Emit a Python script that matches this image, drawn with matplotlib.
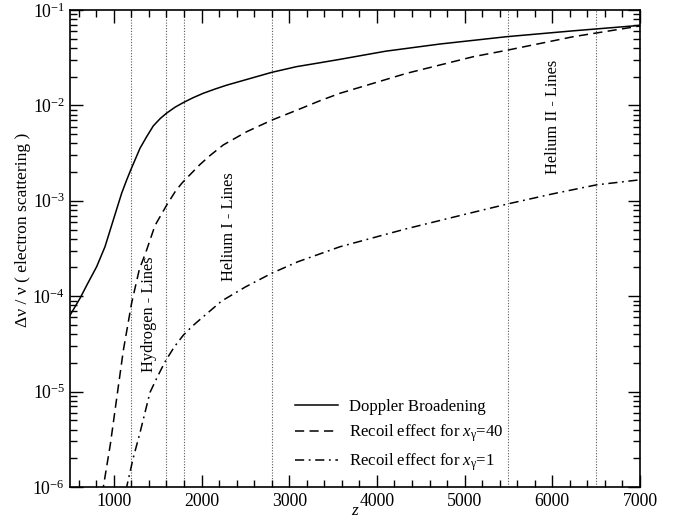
import numpy as np
import matplotlib
matplotlib.use("Agg")
import matplotlib.pyplot as plt
from matplotlib.ticker import LogLocator, MultipleLocator, FixedLocator, NullFormatter

plt.rcParams['font.family'] = ['Liberation Serif', 'DejaVu Serif']
plt.rcParams['mathtext.fontset'] = 'custom'
plt.rcParams['mathtext.rm'] = 'Liberation Serif'
plt.rcParams['mathtext.it'] = 'Liberation Serif:italic'
plt.rcParams['mathtext.bf'] = 'Liberation Serif:bold'

# Doppler broadening
z_doppler = [500, 614, 700, 804, 899, 994, 1089, 1146, 1192, 1298, 1374, 1450, 1530, 1602,
             1700, 1792, 1900, 2020, 2150, 2287, 2515, 2800, 3085, 3351, 3579, 4100,
             4719, 5479, 6239, 7000]
v_doppler = [6.3e-5, 9.5e-5, 1.35e-4, 2.04e-4, 3.3e-4, 6.3e-4, 1.2e-3, 1.65e-3, 2.1e-3,
             3.55e-3, 4.7e-3, 6.1e-3, 7.3e-3, 8.3e-3, 9.6e-3, 1.07e-2, 1.2e-2, 1.34e-2,
             1.48e-2, 1.63e-2, 1.87e-2, 2.22e-2, 2.55e-2, 2.8e-2, 3.04e-2, 3.7e-2,
             4.4e-2, 5.25e-2, 6.05e-2, 6.9e-2]

# Recoil effect for x_gamma = 40
z_rec40 = [860, 880, 960, 1043, 1108, 1203, 1290, 1374, 1469, 1602, 1700, 1773, 1849,
           1982, 2100, 2248, 2515, 2800, 3085, 3351, 3579, 4339, 5099, 5498, 6239, 7000]
v_rec40 = [8.5e-7, 1.0e-6, 2.8e-6, 1.0e-5, 2.7e-5, 8.5e-5, 1.9e-4, 3.05e-4, 5.5e-4,
           9.0e-4, 1.25e-3, 1.52e-3, 1.8e-3, 2.4e-3, 3.0e-3, 3.85e-3, 5.3e-3, 7.0e-3,
           8.9e-3, 1.12e-2, 1.34e-2, 2.17e-2, 3.24e-2, 3.81e-2, 5.25e-2, 6.8e-2]

# Recoil effect for x_gamma = 1
z_rec1 = [1140, 1146, 1220, 1298, 1412, 1500, 1583, 1690, 1792, 1900, 2020, 2229, 2500,
          2800, 3100, 3579, 4339, 5000, 5498, 6000, 6505, 7000]
v_rec1 = [9.2e-7, 1.0e-6, 2.0e-6, 3.7e-6, 9.8e-6, 1.45e-5, 2.05e-5, 2.95e-5, 3.9e-5,
          4.9e-5, 6.1e-5, 8.9e-5, 1.25e-4, 1.74e-4, 2.3e-4, 3.3e-4, 5.1e-4, 7.2e-4,
          9.3e-4, 1.18e-3, 1.47e-3, 1.66e-3]

line_positions = [1200, 1600, 1800, 2800, 5500, 6500]
region_labels = ["Hydrogen - Lines", "Helium I - Lines", "Helium II - Lines"]
region_z = [1401, 2313, 6008]
region_v = [6.5e-5, 5.4e-4, 7.5e-3]

legend_labels = ["Doppler Broadening",
                 r"Recoil effect for $x_{\mathrm{\gamma}}$=40",
                 r"Recoil effect for $x_{\mathrm{\gamma}}$=1"]

fig = plt.figure(figsize=(6.78, 5.2), dpi=100)
ax = fig.add_axes([70/678, 1-487/520, 570/678, 477/520])

for xv in line_positions:
    ax.axvline(xv, color='0.35', lw=0.8, ls=(0, (1, 1.5)), zorder=1)

ax.plot(z_doppler, v_doppler, color='black', lw=1.1, ls='-', label=legend_labels[0])
ax.plot(z_rec40, v_rec40, color='black', lw=1.1, ls=(0, (6, 3.5)), label=legend_labels[1])
ax.plot(z_rec1, v_rec1, color='black', lw=1.1, ls=(0, (6, 3, 1.2, 3)), label=legend_labels[2])

ax.set_yscale('log')
ax.set_xlim(500, 7000)
ax.set_ylim(1e-6, 1e-1)

ax.xaxis.set_major_locator(FixedLocator([1000, 2000, 3000, 4000, 5000, 6000, 7000]))
ax.xaxis.set_minor_locator(MultipleLocator(200))
ax.yaxis.set_major_locator(LogLocator(base=10, numticks=20))
ax.yaxis.set_minor_locator(LogLocator(base=10, subs=np.arange(2, 10), numticks=20))
ax.yaxis.set_minor_formatter(NullFormatter())
ax.set_yticks([1e-6, 1e-5, 1e-4, 1e-3, 1e-2, 1e-1])
ax.set_yticklabels([r'$10^{-6}$', r'$10^{-5}$', r'$10^{-4}$', r'$10^{-3}$', r'$10^{-2}$', r'$10^{-1}$'])

ax.tick_params(which='both', direction='in', top=True, right=True, labelsize=12.8, width=1.0)
ax.tick_params(which='major', length=9)
ax.tick_params(which='minor', length=5)
ax.tick_params(axis='x', pad=4)
for s in ax.spines.values():
    s.set_linewidth(1.2)

ax.set_xlabel(r'$z$', fontsize=12.5, labelpad=-5)
ax.set_ylabel('Δν / ν ( electron scattering )', fontsize=12.6)
ax.yaxis.set_label_coords(-0.068, 0.54)

for lab, zx, vy in zip(region_labels, region_z, region_v):
    ax.text(zx, vy, lab, rotation=90, ha='center', va='center', fontsize=11.8)

leg = ax.legend(loc='upper left', bbox_to_anchor=((295-70)/570, (487-399)/477),
                frameon=False, borderpad=0, borderaxespad=0,
                fontsize=12.1, handlelength=2.55, handletextpad=0.65, labelspacing=0.45)

fig.savefig('out.png', dpi=100)
